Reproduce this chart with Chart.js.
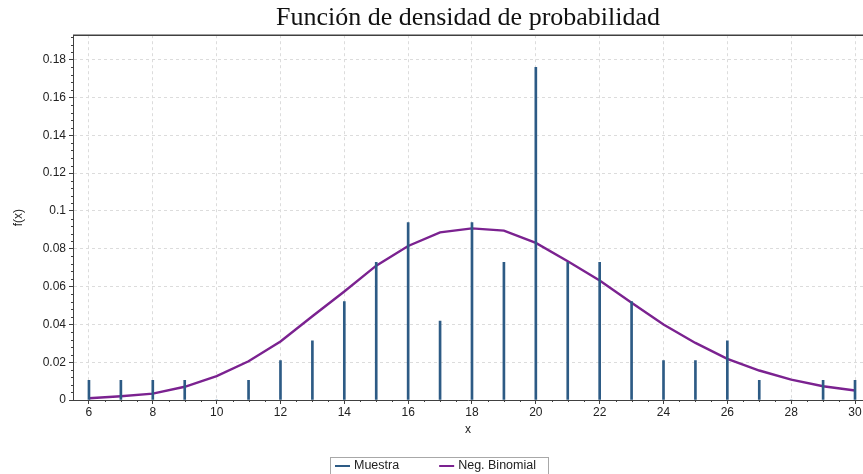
<!DOCTYPE html>
<html>
<head>
<meta charset="utf-8">
<title>Función de densidad de probabilidad</title>
<script src="https://cdn.jsdelivr.net/npm/chart.js@4/dist/chart.umd.min.js"></script>
<style>
  html, body { margin: 0; padding: 0; background: #ffffff; }
  #wrap { width: 863px; height: 474px; }
</style>
</head>
<body>
<div id="wrap"><canvas id="c" width="863" height="474"></canvas></div>
<script>
// Observed values x = 6..30
const xValues = [6, 7, 8, 9, 10, 11, 12, 13, 14, 15, 16, 17, 18, 19, 20, 21, 22, 23, 24, 25, 26, 27, 28, 29, 30];

// Relative frequency of the sample at each x
const muestra = [0.0104, 0.0104, 0.0104, 0.0104, 0, 0.0104, 0.0208, 0.0313, 0.0521, 0.0729,
                 0.0938, 0.0417, 0.0938, 0.0729, 0.176, 0.0729, 0.0729, 0.0521, 0.0208, 0.0208,
                 0.0313, 0.0104, 0, 0.0104, 0.0104];

// Fitted negative binomial probability mass
const negBinomial = [0.0009, 0.002, 0.0034, 0.007, 0.0126, 0.0205, 0.031, 0.0443, 0.0574, 0.0711,
                     0.0815, 0.0887, 0.0908, 0.0896, 0.0831, 0.0734, 0.0632, 0.0514, 0.0399, 0.0302,
                     0.0218, 0.0156, 0.0108, 0.0073, 0.005];

// Axis tick values
const xTicks = [6, 8, 10, 12, 14, 16, 18, 20, 22, 24, 26, 28, 30];
const yTicks = [0, 0.02, 0.04, 0.06, 0.08, 0.1, 0.12, 0.14, 0.16, 0.18];

const AXIS = '#404040';
const GRID = '#dcdcdc';
const BAR_COLOR = '#2d5b85';
const LINE_COLOR = '#7b2290';

// Small tick marks between the labelled ticks, plus the frame line along the top
const minorTicks = {
  id: 'minorTicks',
  afterDraw(chart) {
    const ctx = chart.ctx;
    const xs = chart.scales.x, ys = chart.scales.y;
    const area = chart.chartArea;
    ctx.save();
    ctx.strokeStyle = AXIS;
    ctx.lineWidth = 1;
    ctx.beginPath();
    for (let v = 0.004; v < ys.max; v += 0.004) {
      if (Math.abs(v / 0.02 - Math.round(v / 0.02)) < 1e-6) continue;
      const py = Math.round(ys.getPixelForValue(v)) + 0.5;
      ctx.moveTo(area.left - 2, py);
      ctx.lineTo(area.left, py);
    }
    for (let v = 6.5; v <= xs.max; v += 0.5) {
      if (v % 2 === 0) continue;
      const px = Math.round(xs.getPixelForValue(v)) + 0.5;
      ctx.moveTo(px, area.bottom);
      ctx.lineTo(px, area.bottom + 2);
    }
    ctx.stroke();
    ctx.lineWidth = 1.6;
    ctx.beginPath();
    ctx.moveTo(area.left, area.top);
    ctx.lineTo(area.right, area.top);
    ctx.stroke();
    ctx.restore();
  }
};

// Boxed legend under the axis title
const boxedLegend = {
  id: 'boxedLegend',
  afterDraw(chart) {
    const ctx = chart.ctx;
    ctx.save();
    ctx.font = '12.5px "Liberation Sans", Arial, sans-serif';
    ctx.textBaseline = 'middle';
    ctx.textAlign = 'left';
    const y = 466;
    let x = 335;
    let end = x;
    chart.data.datasets.forEach((ds, i) => {
      ctx.strokeStyle = ds.borderColor;
      ctx.lineWidth = 2;
      ctx.beginPath();
      ctx.moveTo(x, y);
      ctx.lineTo(x + 15, y);
      ctx.stroke();
      ctx.fillStyle = '#222222';
      ctx.fillText(ds.label, x + 19, y);
      end = x + 19 + ctx.measureText(ds.label).width;
      x = end + 40;
    });
    ctx.strokeStyle = '#a8a8a8';
    ctx.lineWidth = 1;
    ctx.strokeRect(330.5, 457.5, Math.round(end + 12) - 330, 30);
    ctx.restore();
  }
};

const tickFont = { family: '"Liberation Sans", Arial, sans-serif', size: 12 };

new Chart(document.getElementById('c'), {
  type: 'bar',
  data: {
    datasets: [
      {
        type: 'bar',
        label: 'Muestra',
        data: xValues.map((x, i) => ({ x: x, y: muestra[i] })),
        backgroundColor: BAR_COLOR,
        borderColor: BAR_COLOR,
        borderWidth: 0,
        barThickness: 2,
        order: 0
      },
      {
        type: 'line',
        label: 'Neg. Binomial',
        data: xValues.map((x, i) => ({ x: x, y: negBinomial[i] })),
        borderColor: LINE_COLOR,
        backgroundColor: LINE_COLOR,
        borderWidth: 2.4,
        pointRadius: 0,
        tension: 0,
        fill: false,
        order: 1
      }
    ]
  },
  options: {
    responsive: false,
    devicePixelRatio: 1,
    animation: false,
    layout: { padding: 0 },
    plugins: {
      legend: { display: false },
      tooltip: { enabled: false },
      title: {
        display: true,
        fullSize: false,
        text: 'Función de densidad de probabilidad',
        color: '#111111',
        font: { family: '"Liberation Serif", "Times New Roman", serif', size: 26, weight: 'normal', lineHeight: 1.2 },
        padding: { top: 3, bottom: 1 }
      }
    },
    scales: {
      x: {
        type: 'linear',
        min: 5.5,
        max: 30.25,
        offset: false,
        afterBuildTicks: (s) => { s.ticks = xTicks.map(v => ({ value: v })); },
        afterFit: (s) => { s.height = 74; },
        grid: { offset: false, color: GRID, tickColor: AXIS, tickLength: 4, tickBorderDash: [] },
        border: { color: AXIS, width: 1, dash: [3, 3] },
        ticks: { color: '#222222', font: tickFont, padding: 1, maxRotation: 0, autoSkip: false },
        title: { display: true, text: 'x', color: '#222222', font: tickFont, padding: { top: 0, bottom: 37 } }
      },
      y: {
        type: 'linear',
        min: 0,
        max: 0.193,
        afterBuildTicks: (s) => { s.ticks = yTicks.map(v => ({ value: v })); },
        afterFit: (s) => { s.width = 73; },
        grid: { color: GRID, tickColor: AXIS, tickLength: 4, tickBorderDash: [] },
        border: { color: AXIS, width: 1, dash: [3, 3] },
        ticks: {
          color: '#222222',
          font: tickFont,
          padding: 3,
          callback: (v) => String(Number(v.toFixed(2)))
        },
        title: { display: true, text: 'f(x)', color: '#222222', font: tickFont, padding: { top: 11, bottom: 0 } }
      }
    }
  },
  plugins: [minorTicks, boxedLegend]
});
</script>
</body>
</html>
